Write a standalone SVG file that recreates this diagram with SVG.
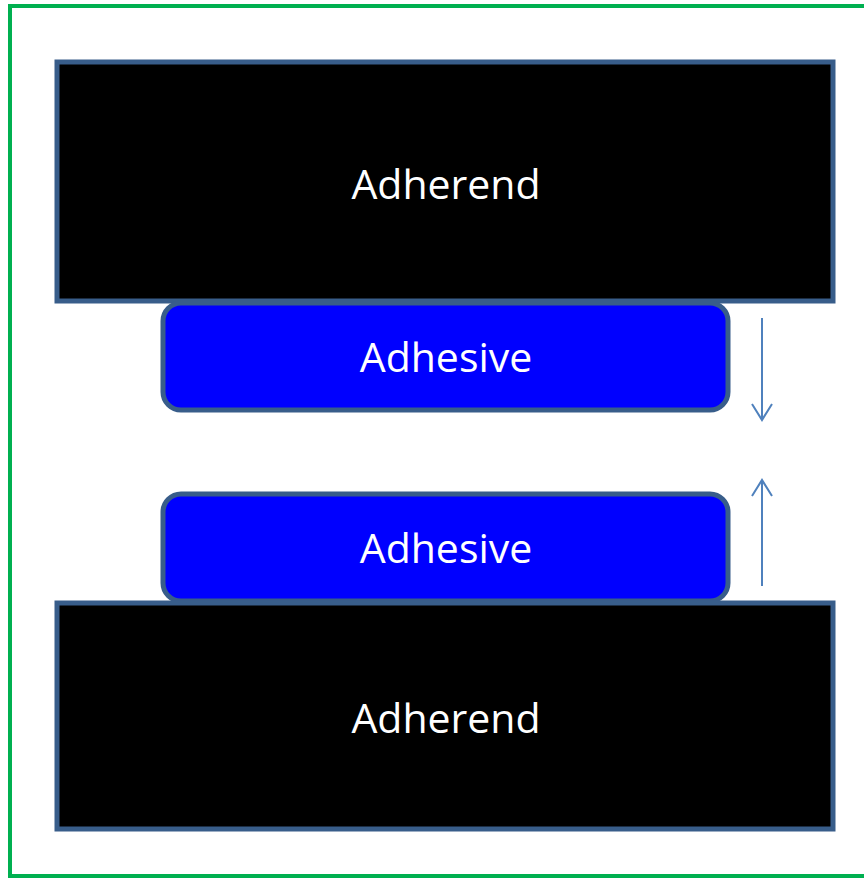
<svg xmlns="http://www.w3.org/2000/svg" width="864" height="878" viewBox="0 0 864 878">
  <style>
    .frame { fill: #FFFFFF; stroke: #00B050; stroke-width: 4; }
    .adherend { fill: #000000; stroke: #385D8A; stroke-width: 5; }
    .adhesive { fill: #0000FF; stroke: #385D8A; stroke-width: 5; }
    .label { fill: #FFFFFF; font-family: "Open Sans", "Noto Sans", "Liberation Sans", sans-serif; font-size: 41px; text-anchor: middle; }
    .motion { stroke: #4F81BD; stroke-width: 2; fill: none; }
  </style>
  <rect x="0" y="0" width="864" height="878" fill="#FFFFFF"/>
  <rect class="frame" x="10" y="6" width="870" height="870"/>

  <g id="adherend-top">
    <rect class="adherend" x="57" y="62" width="776" height="239"/>
    <text class="label" x="446" y="199">Adherend</text>
  </g>
  <g id="adhesive-top">
    <rect class="adhesive" x="163" y="303" width="565" height="107" rx="18" ry="18"/>
    <text class="label" x="446" y="372">Adhesive</text>
  </g>
  <g id="adhesive-bottom">
    <rect class="adhesive" x="163" y="494" width="565" height="107" rx="18" ry="18"/>
    <text class="label" x="446" y="563">Adhesive</text>
  </g>
  <g id="adherend-bottom">
    <rect class="adherend" x="57" y="603" width="776" height="226"/>
    <text class="label" x="446" y="733">Adherend</text>
  </g>

  <g id="connectors">
    <path class="motion" d="M762 318 V420 M752 404 L762 420 L772 404"/>
    <path class="motion" d="M762 586 V480 M752 496 L762 480 L772 496"/>
  </g>
</svg>
